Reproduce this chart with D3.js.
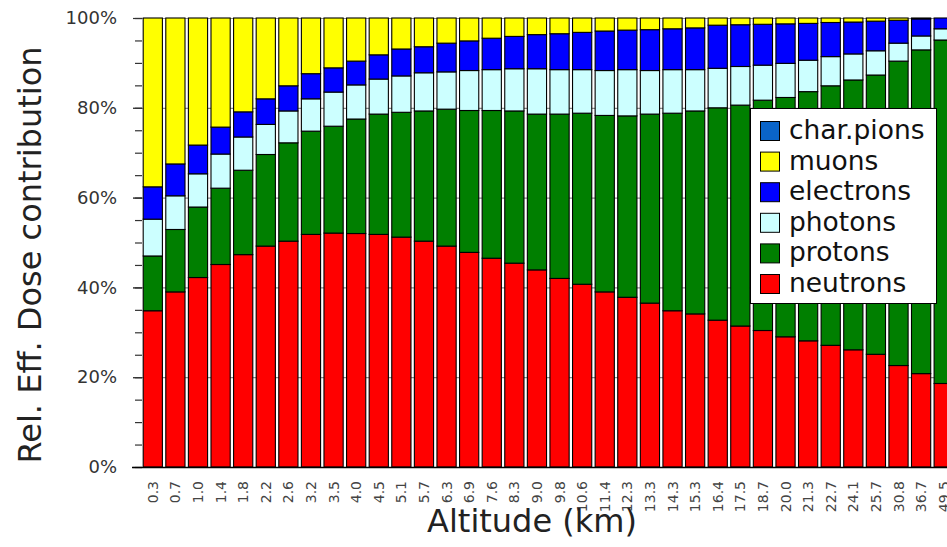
<!DOCTYPE html>
<html>
<head>
<meta charset="utf-8">
<script src="https://cdn.jsdelivr.net/npm/d3@7"></script>
<style>
  body { margin: 0; background: #fff; }
  svg { display: block; font-family: "DejaVu Sans", Verdana, sans-serif; }
</style>
</head>
<body>
<div id="chart"></div>
<script>
// altitude bins (km)
const altitudes = ["0.3","0.7","1.0","1.4","1.8","2.2","2.6","3.2","3.5","4.0","4.5","5.1","5.7","6.3","6.9","7.6","8.3","9.0","9.8","10.6","11.4","12.3","13.3","14.3","15.3","16.4","17.5","18.7","20.0","21.3","22.7","24.1","25.7","30.8","36.7","49.5"];

// relative dose contribution per particle type (%)
const neutrons  = [34.8,39.0,42.2,45.1,47.3,49.2,50.3,51.8,52.1,52.0,51.8,51.2,50.3,49.2,47.8,46.5,45.4,43.9,42.0,40.7,39.0,37.8,36.5,34.8,34.1,32.7,31.4,30.4,29.0,28.1,27.1,26.1,25.1,22.6,20.8,18.6];
const protons   = [12.2,13.9,15.7,17.0,18.8,20.4,21.9,23.0,23.8,25.5,26.8,27.8,29.0,30.5,31.6,32.9,33.9,34.7,36.6,38.1,39.3,40.4,42.1,44.0,45.2,47.3,49.2,51.3,53.3,55.5,57.8,60.1,62.2,67.8,72.1,76.5];
const photons   = [8.2,7.5,7.4,7.6,7.4,6.7,7.1,7.2,7.6,7.6,7.8,8.1,8.5,8.3,8.9,9.1,9.4,10.1,9.9,9.7,10.0,10.3,9.7,9.7,9.2,8.8,8.6,7.8,7.6,7.0,6.5,5.8,5.4,4.0,3.1,2.5];
const electrons = [7.2,7.1,6.4,6.0,5.6,5.7,5.6,5.6,5.4,5.3,5.4,6.0,5.8,6.4,6.6,7.0,7.2,7.6,8.0,8.3,8.8,8.8,9.1,9.1,9.3,9.6,9.3,9.1,8.8,8.2,7.6,7.1,6.6,5.1,3.8,2.4];
const muons     = [37.6,32.5,28.3,24.3,20.9,18.0,15.1,12.4,11.1,9.6,8.2,6.9,6.4,5.6,5.1,4.5,4.1,3.7,3.5,3.2,2.9,2.7,2.6,2.4,2.2,1.6,1.5,1.4,1.3,1.2,1.0,0.9,0.7,0.5,0.2,0.0];
const pions     = [0,0,0,0,0,0,0,0,0,0,0,0,0,0,0,0,0,0,0,0,0,0,0,0,0,0,0,0,0,0,0,0,0,0,0,0];

const seriesNames  = ["neutrons","protons","photons","electrons","muons","char.pions"];
const seriesColors = ["#ff0000","#007f00","#ccffff","#0000ff","#ffff00","#0a64c8"];
const yTicks = [0,20,40,60,80,100];

const width = 947, height = 547;
const svg = d3.select("#chart").append("svg")
    .attr("width", width)
    .attr("height", height);

const rows = altitudes.map((a, i) => ({
  alt: a,
  "neutrons": neutrons[i],
  "protons": protons[i],
  "photons": photons[i],
  "electrons": electrons[i],
  "muons": muons[i],
  "char.pions": pions[i]
}));

const x = d3.scaleBand()
    .domain(altitudes)
    .range([141.5, 955])
    .paddingInner(0.15)
    .paddingOuter(0.075);

const y = d3.scaleLinear().domain([0, 100]).range([467, 18]);

const color = d3.scaleOrdinal().domain(seriesNames).range(seriesColors);

// grid lines behind the bars
svg.append("g")
  .selectAll("line")
  .data(yTicks.filter(d => d > 0))
  .join("line")
    .attr("x1", 133).attr("x2", width)
    .attr("y1", d => y(d) + 0.5).attr("y2", d => y(d) + 0.5)
    .attr("stroke", "#8a8a8a")
    .attr("stroke-width", 1.2);

// y axis (major + minor ticks)
const yAxis = svg.append("g").attr("transform", "translate(142,0)");
yAxis.append("g")
  .call(d3.axisLeft(y).tickValues(d3.range(0, 101, 5)).tickSize(7).tickFormat(""))
  .call(g => g.select(".domain").remove())
  .call(g => g.selectAll("line").attr("stroke", "#333").attr("stroke-width", 1.2));
yAxis.append("g")
  .call(d3.axisLeft(y).tickValues(yTicks).tickSize(9).tickPadding(16).tickFormat(d => d + "%"))
  .call(g => g.select(".domain").remove())
  .call(g => g.selectAll("line").attr("stroke", "#333").attr("stroke-width", 1.2))
  .call(g => g.selectAll("text")
      .attr("font-size", 18)
      .attr("font-family", "DejaVu Sans, sans-serif")
      .attr("fill", "#333"));

// stacked bars
const stacked = d3.stack().keys(seriesNames)(rows);

svg.append("g")
  .selectAll("g")
  .data(stacked)
  .join("g")
    .attr("fill", d => color(d.key))
  .selectAll("rect")
  .data(d => d.filter(s => s[1] - s[0] > 0))
  .join("rect")
    .attr("x", d => x(d.data.alt))
    .attr("y", d => y(d[1]))
    .attr("width", x.bandwidth())
    .attr("height", d => y(d[0]) - y(d[1]))
    .attr("stroke", "#000")
    .attr("stroke-width", 1.1);

// bottom axis line
svg.append("line")
    .attr("x1", 132).attr("x2", width)
    .attr("y1", y(0) + 0.5).attr("y2", y(0) + 0.5)
    .attr("stroke", "#000").attr("stroke-width", 1.3);

// x tick labels, rotated
svg.append("g")
  .selectAll("text")
  .data(altitudes)
  .join("text")
    .attr("transform", d => `translate(${x(d) + x.bandwidth() / 2 + 5},481) rotate(-90)`)
    .attr("text-anchor", "end")
    .attr("font-size", 14)
    .attr("fill", "#444")
    .text(d => d);

// axis titles
svg.append("text")
    .attr("x", 532).attr("y", 532)
    .attr("text-anchor", "middle")
    .attr("font-size", 32)
    .attr("fill", "#222")
    .text("Altitude (km)");

svg.append("text")
    .attr("transform", "translate(41,255) rotate(-90)")
    .attr("text-anchor", "middle")
    .attr("font-size", 32)
    .attr("fill", "#222")
    .text("Rel. Eff. Dose contribution");

// legend
const legendOrder = seriesNames.slice().reverse();
const legend = svg.append("g");
legend.append("rect")
    .attr("x", 750.5).attr("y", 108.5)
    .attr("width", 186).attr("height", 195)
    .attr("fill", "#fff")
    .attr("stroke", "#000")
    .attr("stroke-width", 1);

const items = legend.selectAll("g.item")
  .data(legendOrder)
  .join("g")
    .attr("class", "item")
    .attr("transform", (d, i) => `translate(760,${131 + i * 30.6})`);

items.append("rect")
    .attr("x", 0.5).attr("y", -9.5)
    .attr("width", 19).attr("height", 19)
    .attr("fill", d => color(d))
    .attr("stroke", "#000");

items.append("text")
    .attr("x", 29).attr("y", 8)
    .attr("font-size", 26.5)
    .attr("fill", "#111")
    .text(d => d);
</script>
</body>
</html>
